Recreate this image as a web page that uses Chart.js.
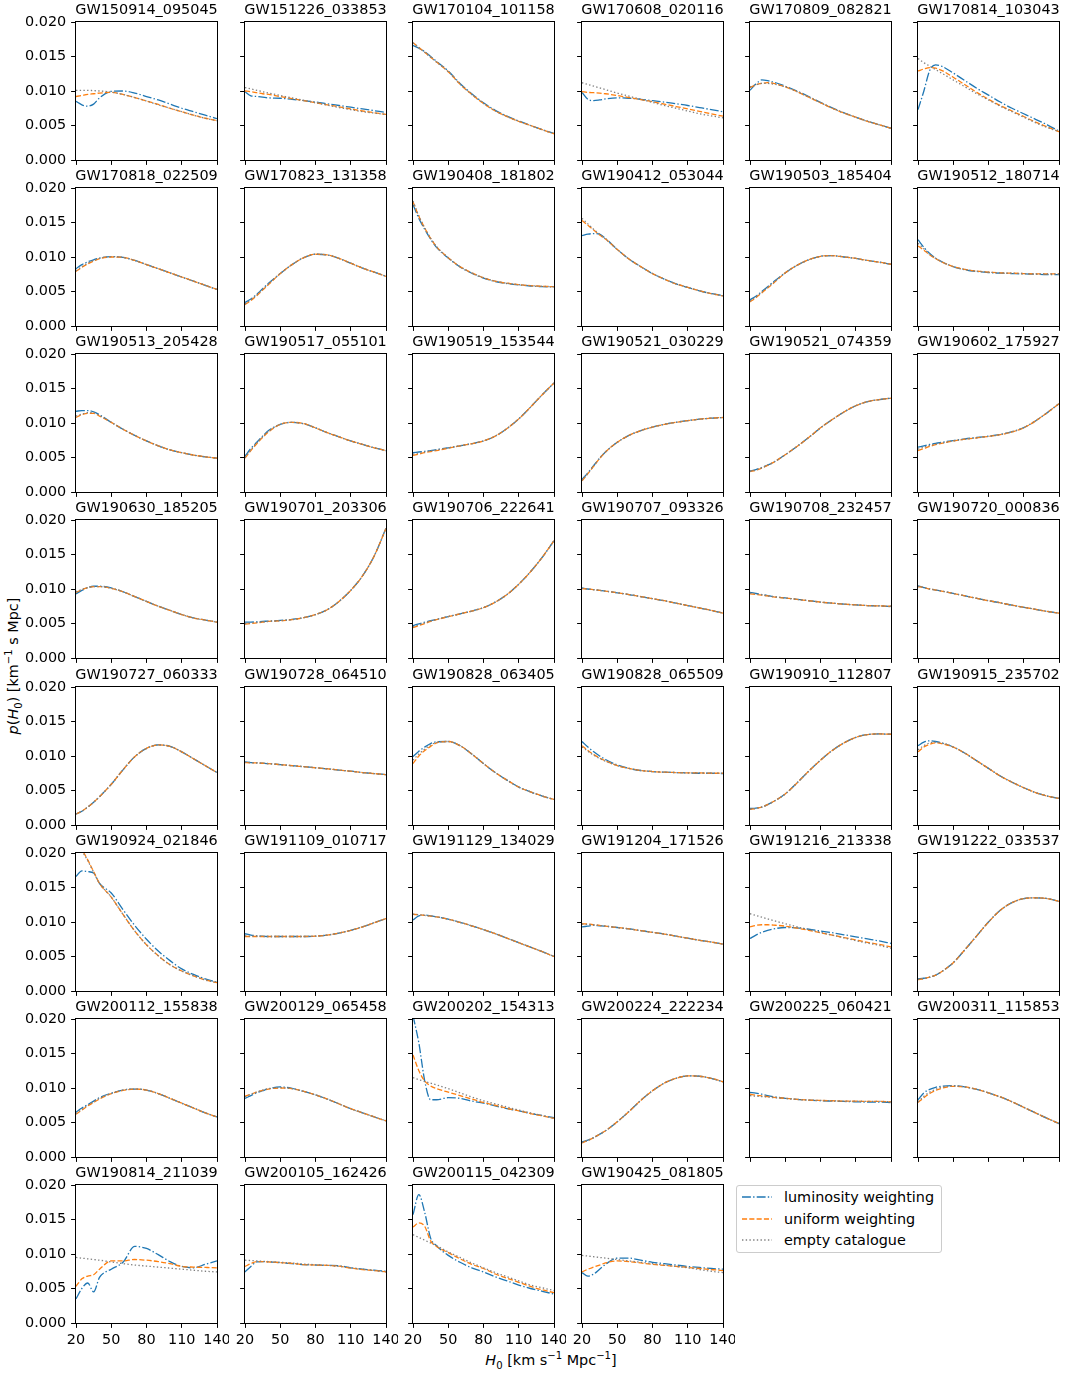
<!DOCTYPE html>
<html>
<head>
<meta charset="utf-8">
<title>p(H0) per event</title>
<script src="https://cdn.jsdelivr.net/npm/chart.js@4.4.1/dist/chart.umd.min.js"></script>
<style>
  body { margin: 0; background: #fff; }
  #fig { position: relative; width: 1072px; height: 1376px; font-family: 'DejaVu Sans', sans-serif; font-size: 14.4px; color: #000; }
  #fig canvas { position: absolute; }
  .axlabel { position: absolute; white-space: nowrap; line-height: 1; }
  .axlabel sub, .axlabel sup { font-size: 70%; line-height: 0; }
  #ylab { left: 13px; top: 666px; transform: translate(-50%, -50%) rotate(-90deg); }
  #xlab { left: 551px; top: 1360px; transform: translate(-50%, -50%); }
  #legend { position: absolute; left: 736px; top: 1185px; width: 204px; height: 66px; border: 1px solid #ccc; border-radius: 3px; background: rgba(255,255,255,0.8); }
  #legend .item { position: absolute; left: 5px; height: 20px; display: flex; align-items: center; white-space: nowrap; }
  #legend svg { margin-right: 12px; }
</style>
</head>
<body>
<div id="fig">
  <div id="ylab" class="axlabel"><i>p</i>(<i>H</i><sub>0</sub>) [km<sup>−1</sup> s Mpc]</div>
  <div id="xlab" class="axlabel"><i>H</i><sub>0</sub> [km s<sup>−1</sup> Mpc<sup>−1</sup>]</div>
  <div id="legend">
    <div class="item" style="top:1px"><svg width="30" height="10"><line x1="0" y1="5" x2="30" y2="5" stroke="#1f77b4" stroke-width="1.3" stroke-dasharray="8.9 2.2 1.4 2.2"/></svg><span>luminosity weighting</span></div>
    <div class="item" style="top:23px"><svg width="30" height="10"><line x1="0" y1="5" x2="30" y2="5" stroke="#ff7f0e" stroke-width="1.3" stroke-dasharray="5.1 2.2"/></svg><span>uniform weighting</span></div>
    <div class="item" style="top:44px"><svg width="30" height="10"><line x1="0" y1="5" x2="30" y2="5" stroke="#808080" stroke-width="1.3" stroke-dasharray="1.4 2.3"/></svg><span>empty catalogue</span></div>
  </div>
</div>
<script>
// H0 sample points shared by every panel
const h0Grid = [20, 25, 30, 35, 40, 50, 60, 70, 80, 90, 100, 110, 120, 130, 140];
const h0Ticks = [20, 50, 80, 110, 140];

const eventNames = [
  'GW150914_095045', 'GW151226_033853', 'GW170104_101158', 'GW170608_020116', 'GW170809_082821', 'GW170814_103043',
  'GW170818_022509', 'GW170823_131358', 'GW190408_181802', 'GW190412_053044', 'GW190503_185404', 'GW190512_180714',
  'GW190513_205428', 'GW190517_055101', 'GW190519_153544', 'GW190521_030229', 'GW190521_074359', 'GW190602_175927',
  'GW190630_185205', 'GW190701_203306', 'GW190706_222641', 'GW190707_093326', 'GW190708_232457', 'GW190720_000836',
  'GW190727_060333', 'GW190728_064510', 'GW190828_063405', 'GW190828_065509', 'GW190910_112807', 'GW190915_235702',
  'GW190924_021846', 'GW191109_010717', 'GW191129_134029', 'GW191204_171526', 'GW191216_213338', 'GW191222_033537',
  'GW200112_155838', 'GW200129_065458', 'GW200202_154313', 'GW200224_222234', 'GW200225_060421', 'GW200311_115853',
  'GW190814_211039', 'GW200105_162426', 'GW200115_042309', 'GW190425_081805'
];

// p(H0) values, in units of 1e-3 km^-1 s Mpc, one row per event
const lumWeighting = [
  [8.5, 8.0, 7.8, 8.1, 9.0, 9.95, 10.0, 9.7, 9.2, 8.7, 8.1, 7.5, 7.0, 6.5, 6.0],
  [9.9, 9.3, 9.2, 9.1, 9.0, 8.95, 8.8, 8.6, 8.4, 8.15, 7.9, 7.65, 7.4, 7.15, 6.9],
  [16.6, 16.2, 15.7, 15.0, 14.3, 12.9, 11.1, 9.6, 8.3, 7.2, 6.35, 5.65, 5.0, 4.4, 3.85],
  [9.8, 8.8, 8.6, 8.7, 8.85, 9.0, 8.95, 8.8, 8.6, 8.4, 8.15, 7.9, 7.6, 7.3, 7.0],
  [10.1, 11.0, 11.6, 11.5, 11.3, 10.7, 10.0, 9.2, 8.35, 7.55, 6.85, 6.2, 5.65, 5.1, 4.6],
  [7.3, 10.0, 13.0, 13.8, 13.6, 12.6, 11.5, 10.4, 9.4, 8.4, 7.5, 6.7, 5.9, 5.1, 4.2],
  [8.3, 8.9, 9.3, 9.6, 9.85, 10.05, 9.95, 9.5, 8.9, 8.3, 7.7, 7.1, 6.5, 5.9, 5.3],
  [3.4, 3.9, 4.6, 5.4, 6.2, 7.6, 8.9, 9.9, 10.4, 10.3, 9.8, 9.1, 8.4, 7.8, 7.2],
  [17.6, 15.6, 14.0, 12.6, 11.4, 9.85, 8.55, 7.65, 6.95, 6.45, 6.15, 5.95, 5.8, 5.7, 5.65],
  [13.1, 13.3, 13.4, 13.3, 12.7, 11.1, 9.7, 8.6, 7.6, 6.8, 6.1, 5.6, 5.1, 4.7, 4.4],
  [3.8, 4.3, 5.0, 5.7, 6.4, 7.7, 8.8, 9.6, 10.1, 10.2, 10.0, 9.8, 9.5, 9.25, 8.95],
  [12.5, 11.4, 10.5, 9.85, 9.35, 8.6, 8.15, 7.9, 7.75, 7.65, 7.6, 7.55, 7.5, 7.45, 7.45],
  [11.7, 11.8, 11.8, 11.6, 11.2, 10.1, 9.1, 8.2, 7.4, 6.7, 6.1, 5.7, 5.35, 5.1, 4.9],
  [5.2, 6.3, 7.2, 8.1, 8.9, 9.8, 10.1, 9.9, 9.3, 8.6, 8.0, 7.4, 6.9, 6.4, 6.0],
  [5.7, 5.8, 5.9, 6.0, 6.15, 6.4, 6.7, 7.0, 7.4, 8.1, 9.2, 10.6, 12.3, 14.1, 15.8],
  [1.8, 2.8, 3.85, 4.9, 5.8, 7.2, 8.2, 8.9, 9.4, 9.8, 10.1, 10.35, 10.55, 10.7, 10.8],
  [3.05, 3.25, 3.55, 3.9, 4.3, 5.4, 6.6, 7.9, 9.3, 10.5, 11.6, 12.5, 13.1, 13.4, 13.6],
  [6.5, 6.7, 6.9, 7.05, 7.2, 7.45, 7.7, 7.9, 8.1, 8.35, 8.75, 9.35, 10.3, 11.5, 12.8],
  [9.3, 9.8, 10.2, 10.4, 10.4, 10.15, 9.6, 8.9, 8.2, 7.5, 6.9, 6.3, 5.8, 5.5, 5.2],
  [5.2, 5.2, 5.25, 5.3, 5.35, 5.45, 5.6, 5.85, 6.3, 7.0, 8.2, 9.8, 11.9, 14.8, 18.8],
  [4.7, 4.95, 5.2, 5.4, 5.6, 6.0, 6.4, 6.8, 7.3, 8.1, 9.2, 10.7, 12.5, 14.6, 17.0],
  [10.15, 10.0, 9.9, 9.8, 9.7, 9.45, 9.2, 8.9, 8.6, 8.3, 7.95, 7.6, 7.25, 6.9, 6.5],
  [9.5, 9.35, 9.2, 9.05, 8.9, 8.7, 8.5, 8.3, 8.1, 7.95, 7.8, 7.7, 7.6, 7.55, 7.45],
  [10.45, 10.2, 10.0, 9.85, 9.7, 9.35, 9.0, 8.65, 8.3, 8.0, 7.65, 7.35, 7.05, 6.75, 6.5],
  [1.6, 2.0, 2.6, 3.3, 4.1, 5.9, 8.0, 9.9, 11.1, 11.6, 11.4, 10.6, 9.6, 8.6, 7.6],
  [9.15, 9.05, 9.0, 8.95, 8.9, 8.75, 8.6, 8.45, 8.3, 8.15, 7.95, 7.8, 7.6, 7.45, 7.3],
  [9.9, 10.7, 11.3, 11.8, 12.05, 12.1, 11.5, 10.3, 8.9, 7.6, 6.5, 5.5, 4.8, 4.2, 3.7],
  [12.1, 11.3, 10.6, 10.0, 9.5, 8.7, 8.2, 7.9, 7.75, 7.65, 7.6, 7.55, 7.5, 7.5, 7.45],
  [2.4, 2.45, 2.6, 2.95, 3.4, 4.5, 6.1, 7.8, 9.4, 10.8, 11.9, 12.7, 13.1, 13.2, 13.15],
  [11.5, 12.0, 12.2, 12.1, 11.9, 11.3, 10.4, 9.3, 8.2, 7.1, 6.2, 5.4, 4.7, 4.2, 3.85],
  [16.6, 17.4, 17.3, 17.1, 15.6, 14.2, 11.8, 9.5, 7.5, 5.8, 4.4, 3.2, 2.4, 1.75, 1.3],
  [8.3, 8.1, 8.0, 7.95, 7.9, 7.9, 7.9, 7.9, 7.95, 8.1, 8.4, 8.8, 9.3, 9.9, 10.5],
  [10.3, 10.9, 11.0, 10.9, 10.75, 10.4, 9.95, 9.45, 8.9, 8.3, 7.65, 7.0, 6.35, 5.7, 5.0],
  [9.3, 9.4, 9.5, 9.45, 9.4, 9.2, 9.0, 8.75, 8.5, 8.25, 7.95, 7.65, 7.35, 7.1, 6.8],
  [7.6, 8.1, 8.5, 8.8, 9.0, 9.2, 9.15, 8.95, 8.7, 8.45, 8.15, 7.85, 7.55, 7.25, 6.9],
  [1.75, 1.85, 2.0, 2.3, 2.8, 4.1, 6.0, 8.0, 10.0, 11.7, 12.8, 13.4, 13.5, 13.4, 13.0],
  [6.5, 7.1, 7.6, 8.1, 8.6, 9.25, 9.7, 9.85, 9.7, 9.2, 8.5, 7.8, 7.1, 6.4, 5.8],
  [8.5, 8.9, 9.3, 9.6, 9.9, 10.15, 9.95, 9.5, 9.0, 8.4, 7.7, 7.0, 6.4, 5.8, 5.25],
  [20.5, 16.5, 11.0, 8.3, 8.3, 8.6, 8.5, 8.1, 7.8, 7.4, 7.0, 6.7, 6.3, 6.0, 5.7],
  [2.2, 2.45, 2.8, 3.3, 3.8, 5.1, 6.6, 8.2, 9.6, 10.7, 11.4, 11.75, 11.7, 11.4, 10.9],
  [9.35, 9.25, 9.1, 8.9, 8.75, 8.5, 8.35, 8.25, 8.15, 8.1, 8.05, 8.0, 7.95, 7.95, 7.9],
  [8.3, 9.3, 9.8, 10.1, 10.25, 10.35, 10.15, 9.8, 9.3, 8.7, 8.0, 7.2, 6.4, 5.6, 4.85],
  [3.5, 5.0, 5.8, 4.5, 6.6, 7.8, 8.8, 11.1, 10.8, 9.9, 8.9, 8.2, 8.0, 8.5, 9.0],
  [7.4, 8.2, 8.85, 8.9, 8.85, 8.75, 8.6, 8.45, 8.4, 8.35, 8.3, 8.0, 7.8, 7.65, 7.5],
  [15.7, 18.6, 16.0, 12.3, 11.2, 9.8, 8.8, 8.0, 7.4, 6.7, 6.1, 5.5, 5.0, 4.6, 4.2],
  [7.3, 6.8, 7.1, 7.8, 8.5, 9.4, 9.4, 9.1, 8.8, 8.6, 8.4, 8.2, 8.05, 7.9, 7.8]
];

const uniWeighting = [
  [9.2, 9.35, 9.5, 9.6, 9.7, 9.8, 9.5, 9.05, 8.55, 8.05, 7.5, 7.0, 6.5, 6.05, 5.7],
  [10.0, 9.9, 9.75, 9.6, 9.5, 9.2, 8.9, 8.6, 8.3, 8.0, 7.7, 7.4, 7.1, 6.85, 6.6],
  [17.0, 16.3, 15.6, 14.9, 14.2, 12.8, 11.0, 9.5, 8.2, 7.1, 6.3, 5.6, 5.0, 4.4, 3.8],
  [9.9, 9.8, 9.75, 9.7, 9.6, 9.35, 9.05, 8.75, 8.45, 8.1, 7.75, 7.4, 7.05, 6.7, 6.35],
  [10.5, 10.9, 11.1, 11.2, 11.1, 10.6, 9.9, 9.1, 8.3, 7.5, 6.8, 6.2, 5.6, 5.1, 4.6],
  [12.9, 13.2, 13.4, 13.3, 13.0, 12.0, 10.9, 9.8, 8.8, 7.9, 7.1, 6.3, 5.5, 4.8, 4.1],
  [7.9, 8.5, 9.0, 9.4, 9.75, 10.0, 9.95, 9.5, 8.9, 8.3, 7.7, 7.1, 6.5, 5.9, 5.3],
  [3.1, 3.7, 4.4, 5.2, 6.0, 7.6, 8.9, 9.9, 10.4, 10.3, 9.8, 9.1, 8.4, 7.8, 7.2],
  [18.0, 15.9, 14.2, 12.7, 11.5, 9.9, 8.6, 7.7, 7.0, 6.5, 6.2, 6.0, 5.85, 5.75, 5.7],
  [15.3, 14.6, 13.9, 13.2, 12.6, 11.1, 9.7, 8.6, 7.6, 6.8, 6.1, 5.6, 5.1, 4.7, 4.35],
  [3.5, 4.1, 4.8, 5.5, 6.2, 7.7, 8.8, 9.6, 10.1, 10.2, 10.0, 9.8, 9.5, 9.25, 8.95],
  [11.6, 11.0, 10.3, 9.75, 9.3, 8.6, 8.2, 7.95, 7.8, 7.7, 7.65, 7.6, 7.55, 7.55, 7.55],
  [10.8, 11.2, 11.4, 11.4, 11.0, 10.1, 9.1, 8.2, 7.4, 6.7, 6.1, 5.7, 5.35, 5.1, 4.9],
  [4.9, 6.0, 7.0, 7.9, 8.7, 9.8, 10.1, 9.9, 9.3, 8.6, 8.0, 7.4, 6.9, 6.4, 6.0],
  [5.3, 5.5, 5.7, 5.85, 6.0, 6.35, 6.7, 7.0, 7.4, 8.1, 9.2, 10.6, 12.3, 14.1, 15.8],
  [1.6, 2.65, 3.75, 4.85, 5.8, 7.2, 8.2, 8.9, 9.4, 9.8, 10.1, 10.35, 10.55, 10.7, 10.8],
  [2.95, 3.15, 3.45, 3.85, 4.3, 5.4, 6.6, 7.9, 9.3, 10.5, 11.6, 12.5, 13.1, 13.4, 13.6],
  [6.0, 6.3, 6.6, 6.85, 7.05, 7.4, 7.65, 7.85, 8.05, 8.3, 8.7, 9.3, 10.3, 11.5, 12.8],
  [9.5, 9.9, 10.2, 10.35, 10.35, 10.1, 9.6, 8.9, 8.2, 7.5, 6.9, 6.3, 5.8, 5.5, 5.2],
  [4.9, 5.0, 5.1, 5.2, 5.3, 5.4, 5.55, 5.85, 6.3, 7.0, 8.2, 9.8, 11.9, 14.8, 18.8],
  [4.4, 4.7, 5.0, 5.3, 5.55, 6.0, 6.4, 6.8, 7.3, 8.1, 9.2, 10.7, 12.5, 14.6, 17.0],
  [10.05, 10.0, 9.9, 9.8, 9.7, 9.45, 9.2, 8.9, 8.6, 8.3, 7.95, 7.6, 7.25, 6.9, 6.5],
  [9.3, 9.2, 9.1, 9.0, 8.85, 8.7, 8.5, 8.3, 8.1, 7.95, 7.8, 7.7, 7.6, 7.55, 7.5],
  [10.35, 10.2, 10.0, 9.85, 9.7, 9.35, 9.0, 8.65, 8.3, 8.0, 7.65, 7.35, 7.05, 6.75, 6.5],
  [1.6, 2.0, 2.6, 3.3, 4.1, 5.9, 8.0, 9.9, 11.1, 11.6, 11.4, 10.6, 9.6, 8.6, 7.6],
  [9.05, 9.0, 9.0, 8.95, 8.9, 8.75, 8.6, 8.45, 8.3, 8.15, 7.95, 7.8, 7.6, 7.45, 7.3],
  [8.9, 10.0, 10.8, 11.4, 11.9, 12.1, 11.5, 10.3, 8.9, 7.6, 6.5, 5.5, 4.8, 4.2, 3.7],
  [11.5, 10.8, 10.2, 9.7, 9.3, 8.6, 8.2, 7.9, 7.75, 7.65, 7.6, 7.55, 7.55, 7.5, 7.5],
  [2.25, 2.4, 2.6, 2.95, 3.4, 4.5, 6.1, 7.8, 9.4, 10.8, 11.9, 12.7, 13.1, 13.2, 13.15],
  [10.6, 11.3, 11.7, 11.9, 11.8, 11.3, 10.4, 9.3, 8.2, 7.1, 6.2, 5.4, 4.7, 4.2, 3.85],
  [21.9, 20.5, 19.0, 17.3, 15.6, 13.6, 11.1, 8.7, 6.7, 5.1, 3.8, 2.9, 2.2, 1.6, 1.2],
  [7.9, 7.9, 7.9, 7.9, 7.9, 7.9, 7.9, 7.9, 7.95, 8.1, 8.4, 8.8, 9.3, 9.9, 10.5],
  [11.1, 11.05, 10.95, 10.85, 10.75, 10.4, 9.95, 9.45, 8.9, 8.3, 7.65, 7.0, 6.35, 5.7, 5.0],
  [9.75, 9.7, 9.6, 9.5, 9.4, 9.2, 9.0, 8.75, 8.5, 8.25, 7.95, 7.65, 7.35, 7.1, 6.8],
  [9.3, 9.5, 9.6, 9.6, 9.55, 9.4, 9.1, 8.8, 8.45, 8.1, 7.75, 7.4, 7.05, 6.75, 6.4],
  [1.65, 1.8, 2.0, 2.3, 2.8, 4.1, 6.0, 8.0, 10.0, 11.7, 12.8, 13.4, 13.5, 13.4, 13.0],
  [6.2, 6.8, 7.4, 7.9, 8.4, 9.2, 9.65, 9.85, 9.7, 9.2, 8.5, 7.8, 7.1, 6.4, 5.8],
  [8.8, 9.1, 9.4, 9.65, 9.85, 10.0, 9.9, 9.5, 9.0, 8.4, 7.7, 7.0, 6.4, 5.8, 5.25],
  [14.8, 12.5, 11.0, 10.3, 9.9, 9.4, 8.9, 8.4, 7.9, 7.5, 7.05, 6.7, 6.3, 5.95, 5.6],
  [2.05, 2.4, 2.8, 3.3, 3.8, 5.1, 6.6, 8.2, 9.6, 10.7, 11.4, 11.75, 11.7, 11.4, 10.9],
  [9.1, 8.95, 8.85, 8.75, 8.65, 8.5, 8.35, 8.25, 8.2, 8.15, 8.1, 8.1, 8.05, 8.05, 8.0],
  [7.9, 8.6, 9.2, 9.65, 9.95, 10.25, 10.15, 9.8, 9.3, 8.7, 8.0, 7.2, 6.4, 5.6, 4.85],
  [5.3, 6.4, 6.8, 7.0, 7.8, 9.0, 9.0, 9.2, 9.1, 8.9, 8.6, 8.2, 8.1, 8.05, 8.0],
  [8.2, 8.6, 8.9, 8.9, 8.85, 8.75, 8.65, 8.45, 8.4, 8.35, 8.25, 7.95, 7.75, 7.6, 7.4],
  [13.9, 14.5, 14.0, 11.9, 11.1, 10.2, 9.3, 8.5, 7.9, 7.1, 6.5, 5.9, 5.3, 4.8, 4.4],
  [7.4, 7.8, 8.1, 8.4, 8.7, 9.0, 8.9, 8.7, 8.5, 8.35, 8.2, 8.05, 7.9, 7.75, 7.6]
];

const emptyCatalogue = [
  [10.1, 10.1, 10.1, 10.05, 10.0, 9.85, 9.5, 9.05, 8.55, 8.0, 7.5, 7.0, 6.5, 6.05, 5.7],
  [10.5, 10.3, 10.1, 9.9, 9.7, 9.35, 9.0, 8.65, 8.3, 7.95, 7.6, 7.3, 7.0, 6.8, 6.6],
  [17.0, 16.3, 15.6, 14.9, 14.2, 12.8, 11.0, 9.5, 8.2, 7.1, 6.3, 5.6, 5.0, 4.4, 3.8],
  [11.2, 10.95, 10.7, 10.45, 10.2, 9.7, 9.25, 8.8, 8.35, 7.9, 7.5, 7.1, 6.7, 6.4, 6.1],
  [10.6, 10.9, 11.1, 11.1, 11.0, 10.6, 9.9, 9.1, 8.3, 7.5, 6.8, 6.2, 5.6, 5.1, 4.6],
  [14.7, 14.1, 13.6, 13.1, 12.6, 11.6, 10.6, 9.6, 8.7, 7.8, 7.0, 6.2, 5.4, 4.7, 4.1],
  [8.0, 8.6, 9.1, 9.5, 9.8, 10.05, 9.95, 9.5, 8.9, 8.3, 7.7, 7.1, 6.5, 5.9, 5.3],
  [3.2, 3.8, 4.5, 5.3, 6.1, 7.6, 8.9, 9.9, 10.4, 10.3, 9.8, 9.1, 8.4, 7.8, 7.2],
  [18.1, 15.95, 14.2, 12.7, 11.5, 9.9, 8.6, 7.7, 7.0, 6.5, 6.2, 6.0, 5.85, 5.75, 5.7],
  [15.6, 14.8, 14.0, 13.3, 12.6, 11.1, 9.7, 8.6, 7.6, 6.8, 6.1, 5.6, 5.1, 4.7, 4.35],
  [3.6, 4.2, 4.9, 5.6, 6.3, 7.7, 8.8, 9.6, 10.1, 10.2, 10.0, 9.8, 9.5, 9.25, 8.95],
  [12.0, 11.2, 10.4, 9.8, 9.3, 8.6, 8.2, 7.95, 7.8, 7.7, 7.65, 7.6, 7.55, 7.55, 7.55],
  [11.0, 11.3, 11.5, 11.5, 11.1, 10.1, 9.1, 8.2, 7.4, 6.7, 6.1, 5.7, 5.35, 5.1, 4.9],
  [5.0, 6.1, 7.1, 8.0, 8.8, 9.8, 10.1, 9.9, 9.3, 8.6, 8.0, 7.4, 6.9, 6.4, 6.0],
  [5.5, 5.65, 5.8, 5.95, 6.1, 6.4, 6.7, 7.0, 7.4, 8.1, 9.2, 10.6, 12.3, 14.1, 15.8],
  [1.7, 2.7, 3.8, 4.9, 5.8, 7.2, 8.2, 8.9, 9.4, 9.8, 10.1, 10.35, 10.55, 10.7, 10.8],
  [3.0, 3.2, 3.5, 3.9, 4.3, 5.4, 6.6, 7.9, 9.3, 10.5, 11.6, 12.5, 13.1, 13.4, 13.6],
  [6.2, 6.5, 6.75, 6.95, 7.1, 7.4, 7.65, 7.85, 8.05, 8.3, 8.7, 9.3, 10.3, 11.5, 12.8],
  [9.6, 9.95, 10.2, 10.35, 10.35, 10.1, 9.6, 8.9, 8.2, 7.5, 6.9, 6.3, 5.8, 5.5, 5.2],
  [5.0, 5.1, 5.15, 5.2, 5.3, 5.4, 5.55, 5.85, 6.3, 7.0, 8.2, 9.8, 11.9, 14.8, 18.8],
  [4.5, 4.8, 5.1, 5.35, 5.6, 6.0, 6.4, 6.8, 7.3, 8.1, 9.2, 10.7, 12.5, 14.6, 17.0],
  [10.1, 10.0, 9.9, 9.8, 9.7, 9.45, 9.2, 8.9, 8.6, 8.3, 7.95, 7.6, 7.25, 6.9, 6.5],
  [9.4, 9.3, 9.15, 9.0, 8.9, 8.7, 8.5, 8.3, 8.1, 7.95, 7.8, 7.7, 7.6, 7.55, 7.5],
  [10.4, 10.2, 10.0, 9.85, 9.7, 9.35, 9.0, 8.65, 8.3, 8.0, 7.65, 7.35, 7.05, 6.75, 6.5],
  [1.6, 2.0, 2.6, 3.3, 4.1, 5.9, 8.0, 9.9, 11.1, 11.6, 11.4, 10.6, 9.6, 8.6, 7.6],
  [9.1, 9.05, 9.0, 8.95, 8.9, 8.75, 8.6, 8.45, 8.3, 8.15, 7.95, 7.8, 7.6, 7.45, 7.3],
  [9.4, 10.3, 11.0, 11.6, 11.95, 12.1, 11.5, 10.3, 8.9, 7.6, 6.5, 5.5, 4.8, 4.2, 3.7],
  [11.3, 10.7, 10.1, 9.65, 9.25, 8.6, 8.2, 7.9, 7.75, 7.65, 7.6, 7.55, 7.55, 7.5, 7.5],
  [2.3, 2.4, 2.6, 2.95, 3.4, 4.5, 6.1, 7.8, 9.4, 10.8, 11.9, 12.7, 13.1, 13.2, 13.15],
  [10.9, 11.5, 11.9, 12.0, 11.9, 11.3, 10.4, 9.3, 8.2, 7.1, 6.2, 5.4, 4.7, 4.2, 3.85],
  [21.7, 20.3, 18.9, 17.2, 15.6, 13.6, 11.1, 8.7, 6.7, 5.1, 3.8, 2.9, 2.2, 1.6, 1.2],
  [8.0, 7.95, 7.95, 7.9, 7.9, 7.9, 7.9, 7.9, 7.95, 8.1, 8.4, 8.8, 9.3, 9.9, 10.5],
  [11.15, 11.05, 10.95, 10.85, 10.75, 10.4, 9.95, 9.45, 8.9, 8.3, 7.65, 7.0, 6.35, 5.7, 5.0],
  [9.7, 9.65, 9.6, 9.5, 9.4, 9.2, 9.0, 8.75, 8.5, 8.25, 7.95, 7.65, 7.35, 7.1, 6.8],
  [11.2, 10.95, 10.7, 10.45, 10.2, 9.75, 9.3, 8.9, 8.5, 8.1, 7.7, 7.3, 6.95, 6.6, 6.2],
  [1.7, 1.8, 2.0, 2.3, 2.8, 4.1, 6.0, 8.0, 10.0, 11.7, 12.8, 13.4, 13.5, 13.4, 13.0],
  [6.3, 6.9, 7.5, 8.0, 8.5, 9.2, 9.7, 9.85, 9.7, 9.2, 8.5, 7.8, 7.1, 6.4, 5.8],
  [8.7, 9.1, 9.4, 9.7, 9.9, 10.05, 9.9, 9.5, 9.0, 8.4, 7.7, 7.0, 6.4, 5.8, 5.25],
  [11.5, 11.2, 10.95, 10.7, 10.45, 9.9, 9.3, 8.7, 8.15, 7.7, 7.25, 6.8, 6.4, 6.0, 5.6],
  [2.1, 2.4, 2.8, 3.3, 3.8, 5.1, 6.6, 8.2, 9.6, 10.7, 11.4, 11.75, 11.7, 11.4, 10.9],
  [8.9, 8.8, 8.75, 8.7, 8.6, 8.5, 8.35, 8.25, 8.2, 8.15, 8.1, 8.1, 8.05, 8.05, 8.0],
  [8.0, 8.8, 9.4, 9.8, 10.1, 10.3, 10.15, 9.8, 9.3, 8.7, 8.0, 7.2, 6.4, 5.6, 4.85],
  [9.5, 9.4, 9.3, 9.2, 9.1, 8.85, 8.6, 8.4, 8.25, 8.1, 7.95, 7.8, 7.65, 7.5, 7.4],
  [9.1, 9.05, 9.0, 8.95, 8.9, 8.8, 8.7, 8.55, 8.45, 8.35, 8.2, 8.0, 7.8, 7.6, 7.4],
  [12.8, 12.4, 12.0, 11.6, 11.2, 10.3, 9.5, 8.7, 8.0, 7.3, 6.7, 6.1, 5.5, 5.1, 4.7],
  [9.8, 9.7, 9.6, 9.5, 9.4, 9.2, 9.0, 8.8, 8.6, 8.4, 8.2, 8.0, 7.75, 7.5, 7.3]
];

// grid of axes (pixel positions of each plot area)
const colLeft = [76, 245, 413, 582, 750, 918];
const rowTop = [22, 188, 354, 520, 687, 853, 1019, 1185];
const PLOT_W = 141, PLOT_H = 138;
const PAD_L = 70, PAD_T = 22, PAD_R = 12, PAD_B = 28;

Chart.defaults.font.family = "'DejaVu Sans', sans-serif";
Chart.defaults.font.size = 14.4;
Chart.defaults.color = '#000';

// full box around the axes + the event name above it
const framePlugin = {
  id: 'frame',
  afterDatasetsDraw(chart, args, opts) {
    const { ctx, chartArea: a } = chart;
    ctx.save();
    ctx.strokeStyle = '#000';
    ctx.lineWidth = 1;
    ctx.strokeRect(a.left - 0.5, a.top - 0.5, a.right - a.left + 1, a.bottom - a.top + 1);
    ctx.fillStyle = '#000';
    ctx.font = "14.4px 'DejaVu Sans', sans-serif";
    ctx.textAlign = 'center';
    ctx.textBaseline = 'alphabetic';
    ctx.fillText(opts.title, (a.left + a.right) / 2, a.top - 8.5);
    ctx.restore();
  }
};

const fig = document.getElementById('fig');

const toPoints = vals => h0Grid.map((h, k) => ({ x: h, y: vals[k] }));

const makePanel = (i) => {
  const row = Math.floor(i / 6), col = i % 6;
  const showX = i >= 42;
  const showY = col === 0;
  const w = PAD_L + PLOT_W + PAD_R, h = PAD_T + PLOT_H + PAD_B;

  const canvas = document.createElement('canvas');
  canvas.width = w;
  canvas.height = h;
  canvas.style.left = (colLeft[col] - PAD_L) + 'px';
  canvas.style.top = (rowTop[row] - PAD_T) + 'px';
  canvas.style.width = w + 'px';
  canvas.style.height = h + 'px';
  fig.appendChild(canvas);

  const line = (label, vals, color, dash, order) => ({
    label,
    data: toPoints(vals),
    borderColor: color,
    borderWidth: 1.3,
    borderDash: dash,
    pointRadius: 0,
    fill: false,
    cubicInterpolationMode: 'monotone',
    order
  });

  new Chart(canvas, {
    type: 'line',
    data: {
      datasets: [
        line('luminosity weighting', lumWeighting[i], '#1f77b4', [8.9, 2.2, 1.4, 2.2], 3),
        line('uniform weighting', uniWeighting[i], '#ff7f0e', [5.1, 2.2], 2),
        line('empty catalogue', emptyCatalogue[i], '#808080', [1.4, 2.3], 1)
      ]
    },
    options: {
      responsive: false,
      animation: false,
      devicePixelRatio: 1,
      events: [],
      layout: { padding: { left: 0, top: PAD_T, right: PAD_R, bottom: 0 } },
      plugins: {
        legend: { display: false },
        tooltip: { enabled: false },
        frame: { title: eventNames[i] }
      },
      scales: {
        x: {
          type: 'linear',
          min: 20,
          max: 140,
          afterBuildTicks: s => { s.ticks = h0Ticks.map(v => ({ value: v })); },
          ticks: {
            autoSkip: false,
            maxRotation: 0,
            minRotation: 0,
            padding: 4,
            callback: v => showX ? String(v) : ''
          },
          grid: { drawOnChartArea: false, drawTicks: true, tickLength: 4.9, color: '#000', lineWidth: 1 },
          border: { display: false },
          afterFit: s => { s.height = PAD_B; s.paddingLeft = 0; s.paddingRight = 0; }
        },
        y: {
          min: 0,
          max: 20,
          ticks: {
            stepSize: 5,
            padding: 4.9,
            callback: v => showY ? (v / 1000).toFixed(3) : ''
          },
          grid: { drawOnChartArea: false, drawTicks: true, tickLength: 4.9, color: '#000', lineWidth: 1 },
          border: { display: false },
          afterFit: s => { s.width = PAD_L; s.paddingTop = 0; s.paddingBottom = 0; }
        }
      }
    },
    plugins: [framePlugin]
  });
};

eventNames.forEach((name, i) => makePanel(i));
</script>
</body>
</html>
